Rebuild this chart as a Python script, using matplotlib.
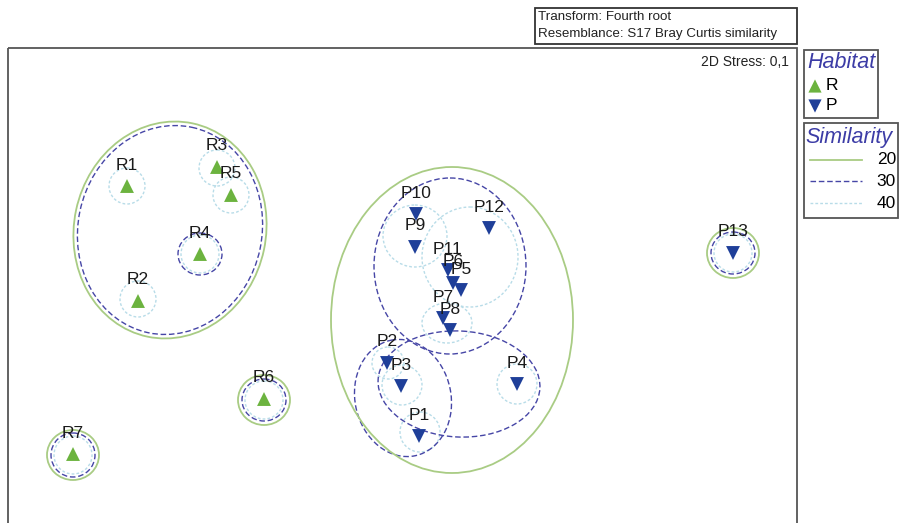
import numpy as np
import matplotlib.pyplot as plt
from matplotlib.patches import Ellipse, Rectangle
from matplotlib.lines import Line2D

plt.rcParams['font.family'] = ['Liberation Sans', 'DejaVu Sans']

# MDS ordination coordinates (plot units)
r_names = ['R1', 'R2', 'R3', 'R4', 'R5', 'R6', 'R7']
r_x = [127, 138, 217, 200, 231, 264, 73]
r_y = [186, 301, 167, 254, 195, 399, 454]

p_names = ['P1', 'P2', 'P3', 'P4', 'P5', 'P6', 'P7', 'P8', 'P9', 'P10', 'P11', 'P12', 'P13']
p_x = [419, 387, 401, 517, 461, 453, 443, 450, 415, 416, 448, 489, 733]
p_y = [436, 363, 386, 384, 290, 283, 318, 330, 247, 214, 270, 228, 253]

# cluster contours: (cx, cy, width, height, angle)
sim20 = [(170, 230, 192, 218, 12), (264, 400, 52, 50, 0), (73, 455, 52, 50, 0),
         (733, 253, 52, 50, 0), (452, 320, 242, 306, 0)]
sim30 = [(170, 230, 184, 210, 12), (200, 254, 44, 42, 0), (264, 400, 44, 42, 0),
         (73, 455, 44, 44, 0), (733, 253, 44, 42, 0),
         (450, 266, 152, 176, 0), (403, 398, 96, 118, -12), (459, 384, 162, 106, 3)]
sim40 = [(127, 186, 36, 36, 0), (138, 299, 36, 36, 0), (217, 168, 36, 36, 0),
         (231, 195, 36, 36, 0), (200, 254, 38, 38, 0), (264, 400, 38, 38, 0),
         (73, 455, 38, 38, 0), (733, 253, 38, 38, 0),
         (415, 236, 64, 62, 0), (470, 257, 96, 100, 0), (447, 323, 50, 40, 0),
         (388, 363, 32, 32, 0), (402, 385, 40, 40, 0), (517, 384, 40, 40, 0),
         (420, 432, 40, 40, 0)]

green = '#6cb33f'
blue = '#1f3f99'
c20 = '#a9cc84'
c30 = '#4646a6'
c40 = '#b8dce8'
title_col = '#3c3ca6'

fig = plt.figure(figsize=(9, 5.23), dpi=100)
ax = fig.add_axes([0, 0, 1, 1])
ax.set_xlim(0, 900)
ax.set_ylim(523, 0)
ax.axis('off')

# frames
ax.add_patch(Rectangle((8, 48), 789, 490, fill=False, ec='#555555', lw=1.3, zorder=5))
ax.add_patch(Rectangle((535, 8), 262, 36, fill=False, ec='#333333', lw=1.3, zorder=5))
ax.add_patch(Rectangle((804, 50), 74, 68, fill=False, ec='#555555', lw=1.3, zorder=5))
ax.add_patch(Rectangle((804, 123), 94, 95, fill=False, ec='#555555', lw=1.3, zorder=5))

ax.text(538, 17, 'Transform: Fourth root', fontsize=9.6, va='center', color='#222222')
ax.text(538, 34, 'Resemblance: S17 Bray Curtis similarity', fontsize=9.6, va='center', color='#222222')
ax.text(789, 62, '2D Stress: 0,1', fontsize=10, va='center', ha='right', color='#222222')

for cx, cy, w, h, a in sim40:
    ax.add_patch(Ellipse((cx, cy), w, h, angle=a, fill=False, ec=c40, lw=1.0, ls=(0, (2, 1.5)), zorder=1))
for cx, cy, w, h, a in sim30:
    ax.add_patch(Ellipse((cx, cy), w, h, angle=a, fill=False, ec=c30, lw=1.0, ls=(0, (4, 2)), zorder=2))
for cx, cy, w, h, a in sim20:
    ax.add_patch(Ellipse((cx, cy), w, h, angle=a, fill=False, ec=c20, lw=1.3, zorder=2))

ax.scatter(r_x, r_y, marker='^', s=100, c=green, edgecolors='none', zorder=4)
ax.scatter(p_x, p_y, marker='v', s=100, c=blue, edgecolors='none', zorder=4)

for n, x, y in zip(r_names + p_names, r_x + p_x, r_y + p_y):
    ax.text(x, y - 21, n, fontsize=12.5, ha='center', va='center', color='#1a1a1a', zorder=6)

# Habitat legend
ax.text(807, 62, 'Habitat', fontsize=15.5, style='italic', color=title_col, va='center')
ax.scatter([815], [86], marker='^', s=90, c=green, edgecolors='none')
ax.text(826, 86, 'R', fontsize=12.5, va='center')
ax.scatter([815], [106], marker='v', s=90, c=blue, edgecolors='none')
ax.text(826, 106, 'P', fontsize=12.5, va='center')

# Similarity legend
ax.text(805, 137, 'Similarity', fontsize=15.5, style='italic', color=title_col, va='center')
ax.add_line(Line2D([810, 862], [160, 160], color=c20, lw=1.3))
ax.add_line(Line2D([810, 862], [181, 181], color=c30, lw=1.0, ls=(0, (4, 2))))
ax.add_line(Line2D([810, 862], [203, 203], color=c40, lw=1.0, ls=(0, (2, 1.5))))
ax.text(896, 160, '20', fontsize=12.5, va='center', ha='right')
ax.text(896, 181, '30', fontsize=12.5, va='center', ha='right')
ax.text(896, 203, '40', fontsize=12.5, va='center', ha='right')

fig.savefig('out.png', dpi=100)
